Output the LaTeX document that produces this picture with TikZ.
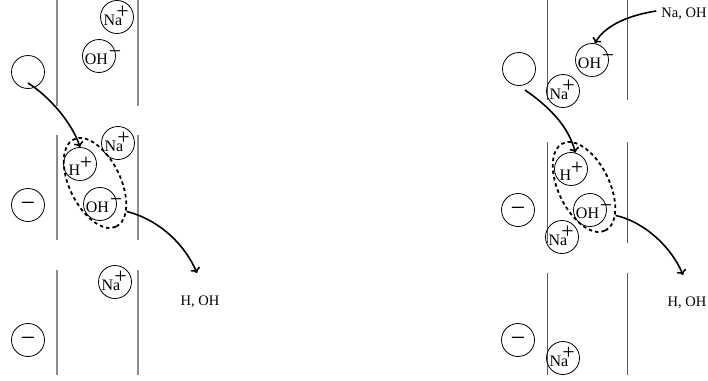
\documentclass[tikz,border=0pt]{standalone}
\usepackage{fontspec}
\setmainfont{Liberation Serif}
\usetikzlibrary{shapes.geometric,arrows.meta}

\newcommand\signfont{\fontsize{22}{22}\selectfont}
% #1 symbol, #2 charge; symbol centred at #3 with its baseline #4 below the centre,
% charge centred at (#5,#6); all in pt, relative to the circle centre, y downwards
\newcommand\ionlbl[6]{%
  \makebox[0pt][l]{\hspace*{#3pt}\raisebox{-#4pt}[0pt][0pt]{\makebox[0pt][c]{#1}}}%
  \makebox[0pt][l]{\hspace*{#5pt}\raisebox{\dimexpr-#6pt-5.5pt\relax}[0pt][0pt]{\makebox[0pt][c]{\signfont #2}}}}
\newcommand\Nap{\ionlbl{Na}{+}{-4}{8}{5.5}{-4}}
\newcommand\OHm{\ionlbl{OH}{−}{-2.5}{8.5}{16}{-3.5}}
\newcommand\Hp{\ionlbl{H}{+}{-5.5}{11}{6}{0}}
\newcommand\bigminus{\makebox[0pt][c]{\raisebox{-6.5pt}[0pt][0pt]{\fontsize{26}{26}\selectfont −}}}

\tikzset{
  ion/.style={circle, draw, line width=0.8pt, minimum size=33pt, inner sep=0pt,
              font=\fontsize{16}{16}\selectfont},
  wallL/.style={draw=gray!90, line width=1.5pt},
  wallR/.style={draw=gray!70!black, line width=0.9pt},
  pairloop/.style={ellipse, draw, line width=1.8pt, dash pattern=on 3.5pt off 3pt,
                   minimum width=97pt, minimum height=51pt, inner sep=0pt, rotate=-64},
  arr/.style={-{To[length=5pt,width=10pt]}, line width=1.6pt},
  lbl/.style={font=\fontsize{14.5}{14.5}\selectfont, anchor=base, inner sep=0pt}
}

\begin{document}
\begin{tikzpicture}[x=1pt, y=-1pt]
\useasboundingbox (0,0) rectangle (708,380);

% ---------------- left cell ----------------
\draw[wallL] (57,0) -- (57,106)   (138,0) -- (138,106);
\draw[wallL] (57,135) -- (57,240) (138,135) -- (138,240);
\draw[wallL] (57,270) -- (57,375) (138,270) -- (138,375);

\node[ion] (eL)  at (28,72)  {};
\node[ion] (mL1) at (28,205) {\bigminus};
\node[ion] (mL2) at (28,340) {\bigminus};

\node[ion] (naL1) at (117,17)  {\Nap};
\node[ion] (ohL1) at (99,56)   {\OHm};
\node[ion] (naL2) at (118,143) {\Nap};
\node[ion] (hL)   at (80,164)  {\Hp};
\node[ion] (ohL2) at (100,204) {\OHm};
\node[ion] (naL3) at (115,282) {\Nap};

\node[pairloop] (pairL) at (95,183) {};

\coordinate (sL) at (28,83);
\draw[arr] (sL) .. controls (50,97) and (72,123) .. (hL.north);
\node[lbl] (outL) at (200,305) {H, OH};
\draw[arr] (pairL.22) .. controls (160,220) and (185,245) .. (197,273);

% ---------------- right cell ----------------
\draw[wallR] (547,0) -- (547,100)   (627,0) -- (627,100);
\draw[wallR] (547,142) -- (547,243) (627,142) -- (627,243);
\draw[wallR] (547,273) -- (547,375) (627,273) -- (627,375);

\node[ion] (eR)  at (519,69)  {};
\node[ion] (mR1) at (518,210) {\bigminus};
\node[ion] (mR2) at (518,340) {\bigminus};

\node[ion] (ohR1) at (592,60)  {\OHm};
\node[ion] (naR1) at (563,91)  {\Nap};
\node[ion] (hR)   at (571,169) {\Hp};
\node[ion] (ohR2) at (590,210) {\OHm};
\node[ion] (naR2) at (562,237) {\Nap};
\node[ion] (naR3) at (563,358) {\Nap};

\node[pairloop] (pairR) at (584,187) {};

\node[lbl] (inR) at (684,17) {Na, OH};
\draw[arr] ([xshift=-5pt]inR.west |- 0,11) .. controls (630,15) and (605,25) .. (ohR1.80);

\coordinate (sR) at (525,90);
\draw[arr] (sR) .. controls (548,106) and (568,125) .. (hR.75);
\node[lbl] (outR) at (687,306) {H, OH};
\draw[arr] (pairR.22) .. controls (645,222) and (672,248) .. (683,275);
\end{tikzpicture}
\end{document}
